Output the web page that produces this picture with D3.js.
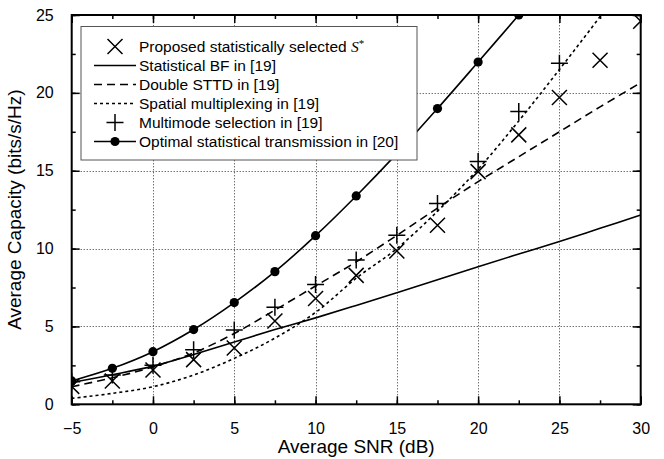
<!DOCTYPE html>
<html><head><meta charset="utf-8">
<script src="https://cdn.jsdelivr.net/npm/d3@7"></script>
<style>body{margin:0;background:#fff}svg{display:block;font-family:"Liberation Sans",Arial,sans-serif}</style>
</head><body>
<svg id="c" width="664" height="459"></svg>
<script>
const snr = [-5,-2.5,0,2.5,5,7.5,10,12.5,15,17.5,20,22.5,25,27.5,30];
const proposed   = [1.15,1.5,2.2,2.87,3.62,5.35,6.8,8.28,9.85,11.5,14.94,17.3,19.7,22.1,24.6];
const statBF     = [1.4,1.9,2.45,3.2,4.0,4.8,5.55,6.35,7.17,8.0,8.84,9.65,10.45,11.3,12.15];
const doubleSTTD = [1.13,1.7,2.4,3.3,4.55,6.05,7.6,9.15,10.85,12.6,14.3,15.9,17.5,19.1,20.65];
const spatialMux = [0.38,0.7,1.13,1.88,2.95,4.25,5.9,8.1,10.0,12.4,15.1,18.2,21.5,24.9,28.5];
const multimode  = [1.45,1.88,2.5,3.5,4.77,6.23,7.7,9.27,10.85,12.9,15.6,18.8,21.9];
const optimal    = [1.5,2.31,3.38,4.8,6.53,8.52,10.83,13.38,16.1,18.99,21.98,25.0];
const xTicks = [-5,0,5,10,15,20,25,30];
const yTicks = [0,5,10,15,20,25];
const legendLabels = ["Proposed statistically selected ","Statistical BF in [19]","Double STTD in [19]","Spatial multiplexing in [19]","Multimode selection in [19]","Optimal statistical transmission in [20]"];

const svg = d3.select("#c");
const x = d3.scaleLinear().domain([-5,30]).range([71.7,640.7]);
const y = d3.scaleLinear().domain([0,25]).range([404.3,15]);
const X0=x.range()[0], X1=x.range()[1], Y0=y.range()[0], Y1=y.range()[1];

svg.append("defs").append("clipPath").attr("id","clip").append("rect")
  .attr("x",X0).attr("y",Y1).attr("width",X1-X0).attr("height",Y0-Y1);

// grid
const grid = svg.append("g").attr("stroke","#333").attr("stroke-width",1).attr("stroke-dasharray","1,2");
grid.selectAll("line.gx").data(xTicks.filter(d=>d>-5&&d<30)).join("line")
  .attr("x1",d=>Math.round(x(d))+0.5).attr("x2",d=>Math.round(x(d))+0.5).attr("y1",Y0).attr("y2",Y1);
grid.selectAll("line.gy").data(yTicks.filter(d=>d>0&&d<25)).join("line")
  .attr("y1",d=>Math.round(y(d))+0.5).attr("y2",d=>Math.round(y(d))+0.5).attr("x1",X0).attr("x2",X1);

// axes with inward ticks
const minorX = d3.range(-5,30.01,2.5), minorY = d3.range(0,25.01,2.5);
function axis(gen, tr, sizeMaj, ticks, fmt){
  return svg.append("g").attr("transform",tr).call(gen.tickValues(ticks).tickSize(sizeMaj).tickFormat(fmt));
}
const none = ()=>"";
const bAx = svg.append("g").attr("transform",`translate(0,${Y0})`).call(d3.axisBottom(x).tickValues(minorX).tickSizeInner(-4).tickSizeOuter(0).tickFormat(none));
const bAx2 = svg.append("g").attr("transform",`translate(0,${Y0})`).call(d3.axisBottom(x).tickValues(xTicks).tickSizeInner(-8).tickSizeOuter(0).tickPadding(18).tickFormat(d3.format("d")));
const tAx = svg.append("g").attr("transform",`translate(0,${Y1})`).call(d3.axisTop(x).tickValues(minorX).tickSizeInner(-4).tickSizeOuter(0).tickFormat(none));
const tAx2 = svg.append("g").attr("transform",`translate(0,${Y1})`).call(d3.axisTop(x).tickValues(xTicks).tickSizeInner(-8).tickSizeOuter(0).tickFormat(none));
const lAx = svg.append("g").attr("transform",`translate(${X0},0)`).call(d3.axisLeft(y).tickValues(minorY).tickSizeInner(-4).tickSizeOuter(0).tickFormat(none));
const lAx2 = svg.append("g").attr("transform",`translate(${X0},0)`).call(d3.axisLeft(y).tickValues(yTicks).tickSizeInner(-8).tickSizeOuter(0).tickPadding(18).tickFormat(d3.format("d")));
const rAx = svg.append("g").attr("transform",`translate(${X1},0)`).call(d3.axisRight(y).tickValues(minorY).tickSizeInner(-4).tickSizeOuter(0).tickFormat(none));
const rAx2 = svg.append("g").attr("transform",`translate(${X1},0)`).call(d3.axisRight(y).tickValues(yTicks).tickSizeInner(-8).tickSizeOuter(0).tickFormat(none));
svg.selectAll(".domain").remove();
svg.selectAll(".tick line").attr("stroke","#000").attr("stroke-width",1.5);
svg.selectAll(".tick text").attr("font-size",16).attr("fill","#000").attr("font-family","Liberation Sans, Arial, sans-serif");

// series
const plot = svg.append("g").attr("clip-path","url(#clip)");
const pts = arr => arr.map((v,i)=>[snr[i],v]);
const line = d3.line().x(d=>x(d[0])).y(d=>y(d[1])).curve(d3.curveCatmullRom.alpha(0.5));
function drawLine(arr,dash){
  plot.append("path").attr("d",line(pts(arr))).attr("fill","none").attr("stroke","#000")
    .attr("stroke-width",1.6).attr("stroke-dasharray",dash);
}
drawLine(statBF,null);
drawLine(doubleSTTD,"8,5");
drawLine(spatialMux,"3,3");
drawLine(optimal,null);

function xMark(g,cx,cy,s){g.append("path").attr("d",`M${cx-s},${cy-s}L${cx+s},${cy+s}M${cx-s},${cy+s}L${cx+s},${cy-s}`).attr("stroke","#000").attr("stroke-width",1.5).attr("fill","none");}
function plusMark(g,cx,cy,s){g.append("path").attr("d",`M${cx-s},${cy}L${cx+s},${cy}M${cx},${cy-s}L${cx},${cy+s}`).attr("stroke","#000").attr("stroke-width",1.5).attr("fill","none");}
pts(proposed).forEach(d=>xMark(plot,x(d[0]),y(d[1]),7.5));
pts(multimode).forEach(d=>plusMark(plot,x(d[0]),y(d[1]),8.5));
plot.selectAll("circle.o").data(pts(optimal)).join("circle")
  .attr("cx",d=>x(d[0])).attr("cy",d=>y(d[1])).attr("r",4.6).attr("fill","#000");

// frame
svg.append("rect").attr("x",X0).attr("y",Y1).attr("width",X1-X0).attr("height",Y0-Y1)
  .attr("fill","none").attr("stroke","#000").attr("stroke-width",2);

// axis titles
svg.append("text").attr("x",(X0+X1)/2).attr("y",453).attr("text-anchor","middle")
  .attr("font-size",19).text("Average SNR (dB)");
svg.append("text").attr("transform",`translate(21,${(Y0+Y1)/2}) rotate(-90)`).attr("text-anchor","middle")
  .attr("font-size",19).text("Average Capacity (bits/s/Hz)");

// legend
const lg = svg.append("g");
lg.append("rect").attr("x",81).attr("y",26.5).attr("width",336).attr("height",133.5)
  .attr("fill","#fff").attr("stroke","#555").attr("stroke-width",1);
const rowY = i => 46.5 + i*19;
const sx0=94, sx1=136, scx=115, tx=139;
legendLabels.forEach((t,i)=>{
  const yy=rowY(i);
  if(i===1) lg.append("line").attr("x1",sx0).attr("x2",sx1).attr("y1",yy).attr("y2",yy).attr("stroke","#000").attr("stroke-width",1.6);
  if(i===2) lg.append("line").attr("x1",sx0).attr("x2",sx1).attr("y1",yy).attr("y2",yy).attr("stroke","#000").attr("stroke-width",1.6).attr("stroke-dasharray","8,5");
  if(i===3) lg.append("line").attr("x1",sx0).attr("x2",sx1).attr("y1",yy).attr("y2",yy).attr("stroke","#000").attr("stroke-width",1.6).attr("stroke-dasharray","3,3");
  if(i===0) xMark(lg,scx,yy,7.5);
  if(i===4) plusMark(lg,scx,yy,8.5);
  if(i===5){lg.append("line").attr("x1",sx0).attr("x2",sx1).attr("y1",yy).attr("y2",yy).attr("stroke","#000").attr("stroke-width",1.6);
    lg.append("circle").attr("cx",scx).attr("cy",yy).attr("r",4.6).attr("fill","#000");}
  const tt = lg.append("text").attr("x",tx).attr("y",yy+5.5).attr("font-size",15.5).text(t);
  if(i===0){
    tt.append("tspan").attr("font-family","Liberation Serif, Times New Roman, serif").attr("font-style","italic").text("S");
    tt.append("tspan").attr("font-family","Liberation Serif, Times New Roman, serif").attr("font-size",11).attr("dy",-5).text("*");
  }
});
</script>
</body></html>
